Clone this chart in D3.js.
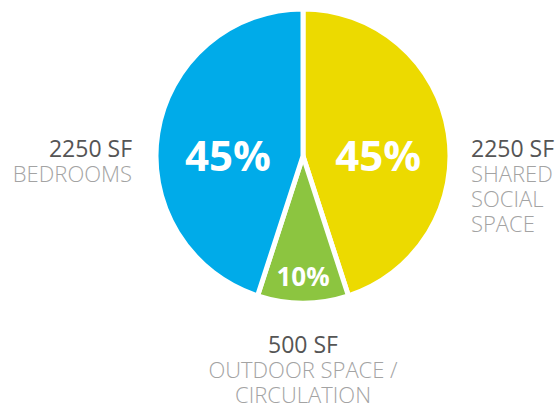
<!DOCTYPE html>
<html>
<head>
<meta charset="utf-8">
<script src="https://cdn.jsdelivr.net/npm/d3@7"></script>
<style>
  body { margin: 0; background: #fff; }
  text { font-family: "Open Sans", "Noto Sans", sans-serif; }
</style>
</head>
<body>
<script>
// Chart data
const categories = ["SHARED SOCIAL SPACE", "OUTDOOR SPACE / CIRCULATION", "BEDROOMS"];
const areas = [2250, 500, 2250];
const areaLabels = ["2250 SF", "500 SF", "2250 SF"];
const percentLabels = ["45%", "10%", "45%"];
const colors = ["#ecda00", "#8cc540", "#00abe9"];

// SVG area
const svgWidth = 560;
const svgHeight = 408;
const cx = 303;
const cy = 156;
const radius = 147;

const svg = d3.select("body")
  .append("svg")
  .attr("width", svgWidth)
  .attr("height", svgHeight);

const pieGroup = svg.append("g")
  .attr("transform", `translate(${cx}, ${cy})`);

const pie = d3.pie().sort(null).value(d => d);
const arcs = pie(areas);

const arc = d3.arc().innerRadius(0).outerRadius(radius);

pieGroup.selectAll(".slice")
  .data(arcs)
  .enter()
  .append("path")
  .attr("class", "slice")
  .attr("d", arc)
  .attr("fill", (d, i) => colors[i])
  .attr("stroke", "#fff")
  .attr("stroke-width", 5)
  .attr("stroke-linejoin", "miter");

// percentage labels inside slices (big slices keep the label level with the centre)
const labelRadius = [76, 121, 76];
const labelSize = [42, 26, 42];
pieGroup.selectAll(".pct")
  .data(arcs)
  .enter()
  .append("text")
  .attr("class", "pct")
  .attr("transform", (d, i) => {
    const c = d3.arc().innerRadius(labelRadius[i]).outerRadius(labelRadius[i]).centroid(d);
    const y = labelSize[i] > 30 ? 0 : c[1];
    return `translate(${c[0]}, ${y})`;
  })
  .attr("text-anchor", "middle")
  .attr("dy", "0.36em")
  .attr("fill", "#fff")
  .attr("font-weight", "bold")
  .attr("font-size", (d, i) => labelSize[i])
  .text((d, i) => percentLabels[i]);

// outside labels, one text per line
const outside = [
  { x: 471, y: 157, anchor: "start", lines: ["SHARED", "SOCIAL", "SPACE"] },
  { x: 303, y: 353, anchor: "middle", lines: ["OUTDOOR SPACE /", "CIRCULATION"] },
  { x: 132, y: 157, anchor: "end", lines: ["BEDROOMS"] }
];

outside.forEach((o, i) => {
  svg.append("text")
    .attr("x", o.x)
    .attr("y", o.y)
    .attr("text-anchor", o.anchor)
    .attr("fill", "#555")
    .attr("font-size", 23)
    .text(areaLabels[i]);
  o.lines.forEach((line, j) => {
    svg.append("text")
      .attr("x", o.x)
      .attr("y", o.y + 25 * (j + 1))
      .attr("text-anchor", o.anchor)
      .attr("fill", "#a3a3a3")
      .attr("font-weight", 300)
      .attr("font-size", 22)
      .text(line);
  });
});
</script>
</body>
</html>
